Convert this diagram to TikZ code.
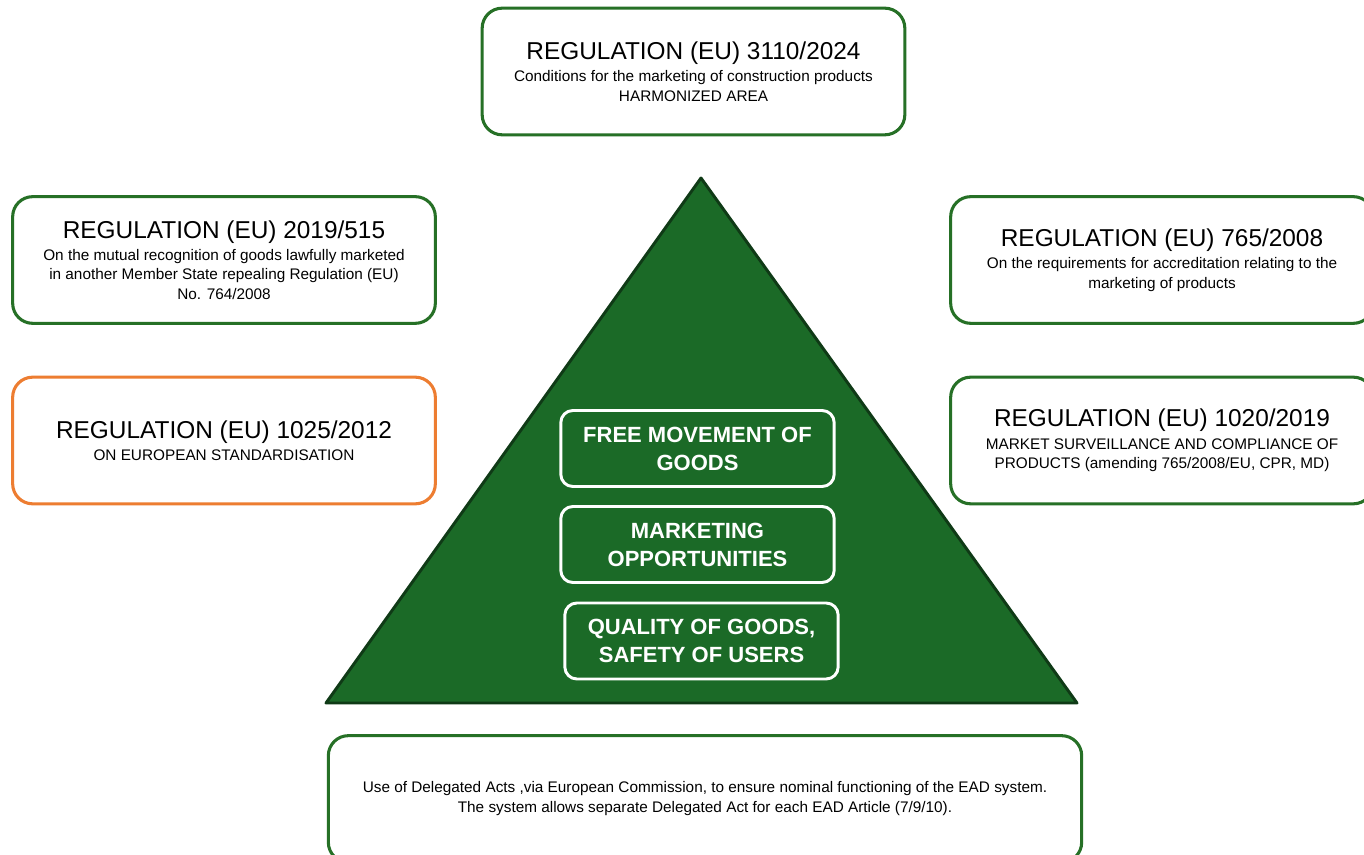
\documentclass[tikz,border=0pt]{standalone}
\usepackage{fontspec}
\setmainfont{Liberation Sans}
\usetikzlibrary{positioning}
\definecolor{boxgreen}{RGB}{38,112,38}
\definecolor{pyrgreen}{RGB}{27,106,39}
\definecolor{pyrline}{RGB}{15,58,22}
\definecolor{stdorange}{RGB}{237,125,49}

\begin{document}
\begin{tikzpicture}[x=0.75pt,y=-0.75pt,line join=round,
    regbox/.style={draw=boxgreen,line width=2.3pt,rounded corners=15pt,fill=white,
      minimum width=317pt,minimum height=95pt,align=center,inner sep=0pt,
      font=\fontsize{11.5}{14.6}\selectfont},
    goalbox/.style={draw=white,line width=2.2pt,rounded corners=9pt,fill=pyrgreen,
      minimum width=205pt,minimum height=57pt,align=center,inner sep=0pt,text=white,
      font=\bfseries\fontsize{16.5}{21}\selectfont}]
    \useasboundingbox (0,0) rectangle (1364,855);
    \clip (0,0) rectangle (1364,855);
    \fill[white] (0,0) rectangle (1364,855);
    % pyramid
    \draw[fill=pyrgreen,draw=pyrline,line width=2.2pt] (701,178)--(326,703)--(1077,703)--cycle;
    \node[goalbox] (movement) at (697.5,448.5) {FREE MOVEMENT OF\\ GOODS};
    \node[goalbox] (marketing) at (697.5,544.5) {MARKETING\\ OPPORTUNITIES};
    \node[goalbox] (quality) at (701.5,641) {QUALITY OF GOODS,\\ SAFETY OF USERS};
    % regulations
    \node[regbox] (reg3110) at (693.5,71.5) {{\fontsize{18.3}{22}\selectfont REGULATION (EU) 3110/2024}\\[2pt]
      Conditions for the marketing of construction products\\ HARMONIZED AREA};
    \node[regbox] (reg515) at (224,260) {{\fontsize{18.3}{22}\selectfont REGULATION (EU) 2019/515}\\[2pt]
      On the mutual recognition of goods lawfully marketed\\ in another Member State repealing Regulation (EU)\\ No. 764/2008};
    \node[regbox,draw=stdorange] (reg1025) at (224,440.5) {{\fontsize{18.3}{22}\selectfont REGULATION (EU) 1025/2012}\\[2pt]
      ON EUROPEAN STANDARDISATION};
    \node[regbox] (reg765) at (1162,260) {{\fontsize{18.3}{22}\selectfont REGULATION (EU) 765/2008}\\[2pt]
      On the requirements for accreditation relating to the\\ marketing of products};
    \node[regbox] (reg1020) at (1162,440.5) {{\fontsize{18.3}{22}\selectfont REGULATION (EU) 1020/2019}\\[2pt]
      MARKET SURVEILLANCE AND COMPLIANCE OF\\ PRODUCTS (amending 765/2008/EU, CPR, MD)};
    \node[regbox,minimum width=565pt,font=\fontsize{11.5}{15}\selectfont] (delegated) at (705,799)
      {Use of Delegated Acts ,via European Commission, to ensure nominal functioning of the EAD system.\\
       The system allows separate Delegated Act for each EAD Article (7/9/10).};
\end{tikzpicture}
\end{document}
